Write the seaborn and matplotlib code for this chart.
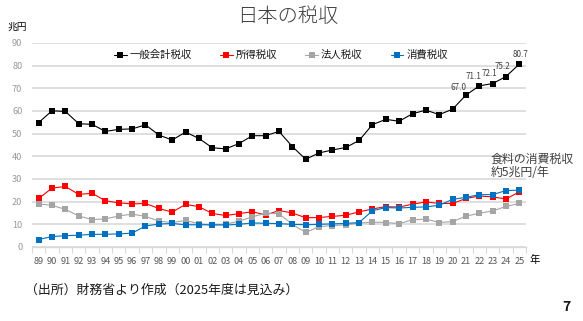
import matplotlib
matplotlib.use("Agg")
import matplotlib.pyplot as plt
import seaborn as sns
import pandas as pd
import numpy as np
from matplotlib.ticker import FixedLocator

years = ['89', '90', '91', '92', '93', '94', '95', '96', '97', '98', '99',
         '00', '01', '02', '03', '04', '05', '06', '07', '08', '09', '10',
         '11', '12', '13', '14', '15', '16', '17', '18', '19', '20', '21',
         '22', '23', '24', '25']

general = [54.9, 60.1, 59.8, 54.4, 54.1, 51.0, 51.9, 52.1, 53.9, 49.4, 47.2,
           50.7, 47.9, 43.8, 43.3, 45.6, 49.1, 49.1, 51.0, 44.3, 38.7, 41.5,
           42.8, 43.9, 47.0, 54.0, 56.3, 55.5, 58.8, 60.4, 58.4, 60.8, 67.0,
           71.1, 72.1, 75.2, 80.7]
income = [21.4, 26.0, 26.7, 23.2, 23.7, 20.4, 19.5, 19.0, 19.2, 17.0, 15.4,
          18.8, 17.8, 14.8, 13.9, 14.7, 15.6, 14.1, 16.1, 15.0, 12.9, 13.0,
          13.5, 14.0, 15.5, 16.8, 17.8, 17.6, 18.9, 19.9, 19.2, 19.2, 21.4,
          22.5, 22.1, 21.2, 24.3]
corporate = [19.0, 18.4, 16.6, 13.7, 12.1, 12.4, 13.7, 14.5, 13.5, 11.4, 10.8,
             11.7, 10.3, 9.5, 10.1, 11.4, 13.3, 14.9, 14.7, 10.0, 6.4, 9.0,
             9.4, 9.8, 10.5, 11.0, 10.8, 10.3, 12.0, 12.3, 10.8, 11.2, 13.6,
             14.9, 15.9, 17.9, 19.2]
consumption = [3.3, 4.6, 5.0, 5.2, 5.6, 5.6, 5.8, 6.1, 9.3, 10.1, 10.4,
               9.8, 9.8, 9.8, 9.7, 10.0, 10.6, 10.5, 10.3, 10.0, 9.8, 10.0,
               10.2, 10.4, 10.8, 16.0, 17.4, 17.2, 17.5, 17.7, 18.4, 21.0, 21.9,
               23.1, 23.1, 24.9, 25.1]

series_names = ['一般会計税収', '所得税収', '法人税収', '消費税収']
series_values = [general, income, corporate, consumption]
colors = ['#000000', '#ff0000', '#a5a5a5', '#0070c0']

labeled_years = ['21', '22', '23', '24', '25']
label_offsets = [(-7, 8), (-6, 9), (-3, 10), (-4, 10), (1, 10)]  # pixels

title = '日本の税収'
unit = '兆円'
note = '食料の消費税収\n約5兆円/年'
source = '（出所）財務省より作成（2025年度は見込み）'
page = '7'

sns.set_theme(style='white')
plt.rcParams['font.family'] = ['Noto Sans CJK JP', 'DejaVu Sans']

rows = []
for name, vals in zip(series_names, series_values):
    for i, (yr, v) in enumerate(zip(years, vals)):
        rows.append({'idx': i, 'year': yr, 'value': v, 'series': name})
df = pd.DataFrame(rows)

dpi = 100
fig = plt.figure(figsize=(5.83, 3.21), dpi=dpi)
W, H = 583, 321
ax = fig.add_axes([32 / W, 1 - 247 / H, (526 - 32) / W, (247 - 43) / H])

palette = dict(zip(series_names, colors))
for name in series_names:
    sub = df[df['series'] == name]
    sns.lineplot(data=sub, x='idx', y='value', color=palette[name], marker='s',
                 markersize=4.6, markeredgewidth=0, linewidth=0.8, ax=ax,
                 label=name, legend=False)

ax.set_xlim(-0.5, len(years) - 0.5)
ax.set_ylim(0, 90)
ax.set_yticks(np.arange(0, 91, 10))
ax.set_xticks(range(len(years)))
ax.set_xticklabels(years)
ax.xaxis.set_minor_locator(FixedLocator(np.arange(-0.5, len(years), 1.0)))
ax.tick_params(axis='x', which='major', length=0, pad=7, labelsize=6.6,
               labelcolor='#595959')
ax.tick_params(axis='x', which='minor', length=4, width=0.8, color='#d9d9d9',
               bottom=True)
ax.tick_params(axis='y', length=0, pad=7, labelsize=6.6, labelcolor='#9a9a9a')
ax.set_xlabel('')
ax.set_ylabel('')
ax.grid(axis='y', color='#d9d9d9', linewidth=1.2)
ax.grid(axis='x', visible=False)
ax.set_axisbelow(True)
for s in ['top', 'right', 'left']:
    ax.spines[s].set_visible(False)
ax.spines['bottom'].set_color('#d9d9d9')
ax.spines['bottom'].set_linewidth(1.0)

for yr, (dx, dy) in zip(labeled_years, label_offsets):
    i = years.index(yr)
    v = general[i]
    ax.annotate(f'{v:.1f}', (i, v), xytext=(dx * 72 / dpi, dy * 72 / dpi),
                textcoords='offset points', ha='center', va='center',
                fontsize=5.8, color='#404040')

handles, labels = ax.get_legend_handles_labels()
leg = fig.legend(handles, labels, loc='center', ncol=4,
                 bbox_to_anchor=(281 / W, 1 - 55 / H), frameon=False,
                 fontsize=7.5, handlelength=1.2, handletextpad=0.3,
                 columnspacing=2.7, borderaxespad=0)
for t in leg.get_texts():
    t.set_color('#1a1a1a')

fig.text(288 / W, 1 - 17 / H, title, ha='center', va='center', fontsize=14.6,
         color='#404040', fontweight='light')
fig.text(8 / W, 1 - 27 / H, unit, ha='left', va='center', fontsize=7,
         color='#000000')
fig.text(530 / W, 1 - 260 / H, '年', ha='left', va='center', fontsize=7.5,
         color='#000000')
fig.text(491 / W, 1 - 166 / H, note, ha='left', va='center', fontsize=8.6,
         color='#404040', linespacing=1.0)
fig.text(25 / W, 1 - 290 / H, source, ha='left', va='center', fontsize=9.3,
         color='#1a1a1a')
fig.text(566 / W, 1 - 307 / H, page, ha='center', va='center', fontsize=10,
         color='#1a1a1a', fontweight='bold')

fig.savefig('out.png', dpi=dpi)
